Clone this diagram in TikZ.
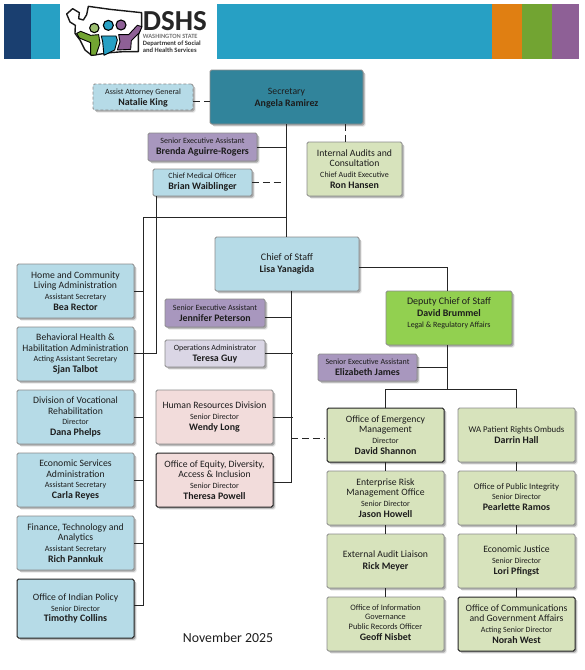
\documentclass[tikz,border=0pt]{standalone}
\usepackage{fontspec}
\setmainfont{Carlito}
\usetikzlibrary{shadows,calc}
\definecolor{cdark}{HTML}{1A3F70}
\definecolor{cblue}{HTML}{27A0C4}
\definecolor{corange}{HTML}{E07F12}
\definecolor{cgreen}{HTML}{72A432}
\definecolor{cpurple}{HTML}{8E6096}
\definecolor{lblue}{HTML}{B6DBE7}
\definecolor{teal}{HTML}{31849B}
\definecolor{mauve}{HTML}{A897BE}
\definecolor{lav}{HTML}{DAD6E5}
\definecolor{pink}{HTML}{F2DCDB}
\definecolor{sage}{HTML}{D7E3BC}
\definecolor{lime}{HTML}{92D050}
\definecolor{edge}{HTML}{8A8A8A}
\definecolor{wire}{HTML}{262626}
\definecolor{ink}{HTML}{1C1C1C}
\tikzset{
  base/.style={rounded corners=1.6pt,inner sep=0pt,outer sep=0pt,align=center,text=ink,
    font=\fontsize{9.7}{10.7}\selectfont,
    general shadow={shadow xshift=2.6pt,shadow yshift=-2.6pt,fill=black,opacity=.1},
    general shadow={shadow xshift=1.6pt,shadow yshift=-1.6pt,fill=black,opacity=.26}},
  plain/.style={base,draw=edge,line width=.9pt},
  strong/.style={base,draw=black!85,line width=1pt},
  dashbox/.style={base,draw=edge,line width=.9pt,dash pattern=on 3pt off 2pt},
  wirel/.style={draw=wire,line width=1pt},
  wired/.style={draw=wire,line width=1pt,dash pattern=on 7pt off 3.8pt},
  textonly/.style={inner sep=0pt,outer sep=0pt,align=center,text=ink,font=\fontsize{9.7}{10.7}\selectfont},
}
\newcommand{\bx}[7]{\node[#6,minimum width={(#4-#2)*1pt},minimum height={(#5-#3)*1pt}] (#1) at ({(#2+#4)/2},{(#3+#5)/2}) {#7};}
\newcommand{\sm}[1]{{\fontsize{8}{10.7}\selectfont #1}}
\newcommand{\nm}[1]{{\fontsize{9.9}{10.7}\selectfont\bfseries #1}}
\newcommand{\bigt}[1]{{\fontsize{10}{10.7}\selectfont #1}}
\begin{document}
\begin{tikzpicture}[x=1pt,y=-1pt]
\useasboundingbox (0,0) rectangle (585,670);
% header bands
\fill[cdark] (4,4) rectangle (31,59);
\fill[cblue] (31,4) rectangle (59.5,59);
\fill[cblue] (217.3,4) rectangle (491.7,59);
\fill[corange] (491.7,4) rectangle (521.7,59);
\fill[cgreen] (521.7,4) rectangle (552.3,59);
\fill[cpurple] (552.3,4) rectangle (579,59);
% logo
\begin{scope}[shift={(60,0)},x=.3333pt,y=-.3333pt]
\draw[line width=1.4pt,draw=black!90,line join=round,fill=white]
  (20,42) -- (38,26) -- (58,38) -- (56,56) -- (70,60) -- (80,44) -- (85,19) -- (150,28) -- (245,38) -- (245,78) -- (235,105) -- (235,155) -- (190,155) -- (150,158) -- (95,166) -- (75,150) -- (60,120) -- (45,100) -- (46,76) -- (30,66) -- cycle;
\draw[line width=.9pt,draw=black,fill=cgreen,line join=round] (50,100) -- (62,94) -- (92,106) -- (116,104) -- (120,130) -- (108,165) -- (92,165) -- (92,128) -- (58,114) -- cycle;
\draw[line width=.9pt,draw=black,fill=cblue,line join=round] (124,108) -- (168,108) -- (172,120) -- (164,150) -- (132,166) -- (128,125) -- cycle;
\draw[line width=.9pt,draw=black,fill=cpurple,line join=round] (176,104) -- (206,104) -- (232,76) -- (246,80) -- (238,98) -- (214,122) -- (212,148) -- (172,150) -- (180,125) -- cycle;
\draw[line width=1.1pt,fill=cgreen!70!white] (103,84) circle (14);
\draw[line width=1.1pt,fill=cblue] (145,76) circle (15);
\draw[line width=1.1pt,fill=cpurple] (183,75) circle (15);
\node[anchor=base west,inner sep=0pt,text=black!85] (logoa) at (248,92) {\fontsize{29}{29}\selectfont\bfseries DSHS};
\node[anchor=base west,inner sep=0pt,text=black!55] (logob) at (248,115) {\fontsize{6.4}{7}\selectfont\bfseries WASHINGTON STATE};
\node[anchor=base west,inner sep=0pt,text=black!80] (logoc) at (248,136) {\fontsize{6.6}{7}\selectfont\bfseries Department of Social};
\node[anchor=base west,inner sep=0pt,text=black!80] (logod) at (248,157) {\fontsize{6.6}{7}\selectfont\bfseries and Health Services};
\end{scope}
% boxes
\bx{natalie}{93}{84}{193}{110}{dashbox,fill=lblue,yshift=0pt}{}
\node[textonly] (nataliet) at (143,97.8) {\sm{Assist Attorney General}\\[.6pt]\nm{Natalie King}};
\bx{sec}{210}{70}{363}{124}{plain,fill=teal}{}
\node[textonly] (sect) at (286.5,98.5) {Secretary\\[1.6pt]\nm{Angela Ramirez}};
\bx{brenda}{148}{133}{257}{161}{plain,fill=mauve}{\sm{Senior Executive Assistant}\\[.3pt]\nm{Brenda Aguirre-Rogers}}
\bx{brian}{153}{169}{252}{196}{plain,fill=lblue}{\sm{Chief Medical Officer}\\[.3pt]\nm{Brian Waiblinger}}
\bx{internal}{307}{142}{402}{196}{plain,fill=sage}{Internal Audits and\\Consultation\\\sm{Chief Audit Executive}\\\nm{Ron Hansen}}
\bx{cos}{215}{237}{359}{291}{plain,fill=lblue}{\bigt{Chief of Staff}\\[1.3pt]\nm{Lisa Yanagida}}
\bx{deputy}{386}{291}{512}{345}{plain,fill=lime}{}
\node[textonly] (deputyt) at (449,313.5) {\bigt{Deputy Chief of Staff}\\[1.3pt]\nm{David Brummel}\\[.3pt]\sm{Legal \& Regulatory Affairs}};
\bx{jennifer}{165}{299}{265}{327}{plain,fill=mauve}{\sm{Senior Executive Assistant}\\[.3pt]\nm{Jennifer Peterson}}
\bx{elizabeth}{318}{354}{417}{381}{plain,fill=mauve}{\sm{Senior Executive Assistant}\\[.3pt]\nm{Elizabeth James}}
\bx{teresa}{165}{340}{265}{367}{plain,fill=lav}{\sm{Operations Administrator}\\[.3pt]\nm{Teresa Guy}}
\bx{hr}{156}{390}{273}{444}{plain,fill=pink}{Human Resources Division\\\sm{Senior Director}\\\nm{Wendy Long}}
\bx{equity}{156}{453}{273}{507}{strong,fill=pink}{Office of Equity, Diversity,\\Access \& Inclusion\\\sm{Senior Director}\\\nm{Theresa Powell}}
\bx{home}{17}{264}{134}{318}{plain,fill=lblue}{Home and Community\\Living Administration\\\sm{Assistant Secretary}\\\nm{Bea Rector}}
\bx{behav}{17}{327}{134}{381}{plain,fill=lblue}{Behavioral Health \&\\Habilitation Administration\\\sm{Acting Assistant Secretary}\\\nm{Sjan Talbot}}
\bx{dvr}{17}{390}{134}{444}{plain,fill=lblue}{Division of Vocational\\Rehabilitation\\\sm{Director}\\\nm{Dana Phelps}}
\bx{esa}{17}{453}{134}{507}{plain,fill=lblue}{Economic Services\\Administration\\\sm{Assistant Secretary}\\\nm{Carla Reyes}}
\bx{fta}{17}{516}{134}{570}{plain,fill=lblue}{Finance, Technology and\\Analytics\\\sm{Assistant Secretary}\\\nm{Rich Pannkuk}}
\bx{indian}{17}{579}{134}{638}{strong,fill=lblue}{Office of Indian Policy\\\sm{Senior Director}\\\nm{Timothy Collins}}
\bx{oem}{327}{408}{444}{462}{strong,fill=sage}{Office of Emergency\\Management\\\sm{Director}\\\nm{David Shannon}}
\bx{erm}{327}{471}{444}{525}{plain,fill=sage}{Enterprise Risk\\Management Office\\\sm{Senior Director}\\\nm{Jason Howell}}
\bx{audit}{327}{534}{444}{588}{plain,fill=sage}{External Audit Liaison\\[.8pt]\nm{Rick Meyer}}
\bx{oig}{327}{597}{444}{651}{plain,fill=sage}{}
\node[textonly,font=\fontsize{8.3}{9.7}\selectfont] (oigt) at (385.5,622.5) {Office of Information\\Governance\\Public Records Officer\\[1pt]\nm{Geoff Nisbet}};
\bx{ombuds}{458}{408}{575}{462}{plain,fill=sage}{{\fontsize{8.8}{10.7}\selectfont WA Patient Rights Ombuds}\\[.3pt]\nm{Darrin Hall}}
\bx{integrity}{458}{471}{575}{525}{plain,fill=sage}{}
\node[textonly] (integrityt) at (516.5,497) {{\fontsize{8.7}{10.7}\selectfont Office of Public Integrity}\\\sm{Senior Director}\\\nm{Pearlette Ramos}};
\bx{justice}{458}{534}{575}{588}{plain,fill=sage}{Economic Justice\\\sm{Senior Director}\\\nm{Lori Pfingst}}
\bx{comms}{458}{597}{575}{651}{strong,fill=sage}{Office of Communications\\and Government Affairs\\\sm{Acting Senior Director}\\\nm{Norah West}}
\node[inner sep=0pt,text=ink,font=\fontsize{13.8}{15}\selectfont] (date) at (228,638) {November 2025};
% junction coordinates
\coordinate (spine) at (286,217.7);
\coordinate (left) at (143.4,217.7);
\coordinate (bus) at (291.3,291);
\coordinate (audx) at (345,124);
\coordinate (depx) at (447.7,389.7);
\coordinate (medx) at (156,353.3);
\coordinate (indj) at (143.4,605.7);
\coordinate (eqj) at (291.3,482);
\coordinate (jenj) at (291.3,317);
\coordinate (emj) at (291.3,438.2);
\coordinate (natj) at (201,101.5);
\coordinate (cosj) at (447.7,267.3);
% connectors
\draw[wired] (natalie.east |- natj) -- (sec.west |- natj);
\draw[wirel] (spine |- sec.south) -- (spine |- cos.north);
\draw[wirel] (brenda.east) -- (brenda.east -| spine);
\draw[wired] (brian.east) -- ([xshift=-2pt]brian.east -| spine);
\draw[wired] (audx) -- (audx |- internal.north);
\draw[wirel] (spine) -- (left) -- (indj) -- (indian.east |- indj);
\draw[wirel] (home.east) -- (home.east -| left);
\draw[wirel] (dvr.east) -- (dvr.east -| left);
\draw[wirel] (esa.east) -- (esa.east -| left);
\draw[wirel] (fta.east) -- (fta.east -| left);
\draw[wirel] (medx |- brian.south) -- (medx) -- (behav.east |- medx);
\draw[wirel] (bus) -- (eqj) -- (equity.east |- eqj);
\draw[wirel] (jennifer.east |- jenj) -- (jenj);
\draw[wirel] (teresa.east) -- ([xshift=2pt]teresa.east -| bus);
\draw[wirel] (hr.east) -- ([xshift=2pt]hr.east -| bus);
\draw[wired] (emj) -- ([xshift=-3pt]oem.west |- emj);
\draw[wirel] (cos.east |- cosj) -- (cosj) -- (deputy.north -| cosj);
\draw[wirel] (cosj |- deputy.south) -- (depx);
\draw[wirel] (elizabeth.east) -- (elizabeth.east -| depx);
\draw[wirel] (oem.north) -- (oem.north |- depx) -- (ombuds.north |- depx) -- (ombuds.north);
\draw[wirel] (oem.south) -- (erm.north);
\draw[wirel] (erm.south) -- (audit.north);
\draw[wirel] (audit.south) -- (oig.north);
\draw[wirel] (ombuds.south) -- (integrity.north);
\draw[wirel] (integrity.south) -- (justice.north);
\draw[wirel] (justice.south) -- (comms.north);
\end{tikzpicture}
\end{document}
